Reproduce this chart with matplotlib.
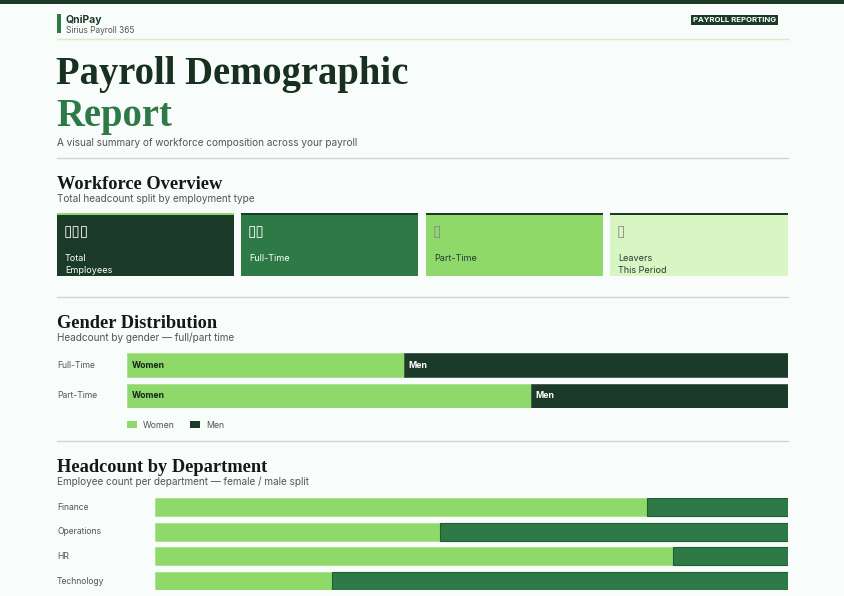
import matplotlib.pyplot as plt
from matplotlib.patches import Rectangle

# data
gender_rows = ['Full-Time', 'Part-Time']
women_gender = [18, 11]
men_gender = [25, 7]

departments = ['Finance', 'Operations', 'HR', 'Technology']
dept_female = [7, 9, 9, 7]
dept_male = [2, 11, 2, 18]

cards = ['Total\nEmployees', 'Full-Time', 'Part-Time', 'Leavers\nThis Period']
card_icons = ['\u25af\u25af\u25af', '\u25af\u25af', '\u25af', '\u25af']

# colours
DARK = '#1b3a27'
MID = '#2d7a47'
LIGHT = '#8fd96b'
PALE = '#d8f5c4'
BG = '#f8fcfa'
GREY = '#555555'

W, H = 844, 596
SANS = ['Inter', 'DejaVu Sans']
SERIF = 'Liberation Serif'


def fx(x):
    return x / W


def fy(y):
    return 1 - y / H


def box(x0, y0, x1, y1):
    return [fx(x0), fy(y1), fx(x1) - fx(x0), fy(y0) - fy(y1)]


def hline(y, x0, x1, color, lw=1.0):
    fig.add_artist(plt.Line2D([fx(x0), fx(x1)], [fy(y), fy(y)], color=color, lw=lw))


def rect(x0, y0, x1, y1, color):
    fig.add_artist(Rectangle((fx(x0), fy(y1)), fx(x1) - fx(x0), fy(y0) - fy(y1),
                             color=color, lw=0, transform=fig.transFigure))


fig = plt.figure(figsize=(8.44, 5.96), dpi=100, facecolor=BG)

# top strip and header
rect(0, 0, W, 4, DARK)
rect(57, 14, 61, 33, MID)
fig.text(fx(66), fy(20), 'QniPay', family=SANS, fontsize=7.5, weight='bold', color=DARK, va='center')
fig.text(fx(66), fy(30.5), 'Sirius Payroll 365', family=SANS, fontsize=6, color=GREY, va='center')
fig.text(fx(734.5), fy(20), 'PAYROLL REPORTING', family=SANS, fontsize=5.6, weight='bold', color='white',
         ha='center', va='center',
         bbox=dict(boxstyle='square,pad=0.25', fc=DARK, ec='none'))
hline(39, 57, 788, '#d6efc2')

fig.text(fx(56), fy(84), 'Payroll Demographic', family=SERIF, fontsize=27.8, weight='bold', color='#17301f',
         va='baseline')
fig.text(fx(56), fy(126), 'Report', family=SERIF, fontsize=27.8, weight='bold', color=MID, va='baseline')
fig.text(fx(57), fy(143.5), 'A visual summary of workforce composition across your payroll', family=SANS,
         fontsize=7.2, color=GREY, va='center')
hline(158, 57, 788, '#d0d4d2')

# workforce overview
fig.text(fx(57), fy(189), 'Workforce Overview', family=SERIF, fontsize=13.2, weight='bold', color='#111a14',
         va='baseline')
fig.text(fx(57), fy(198.5), 'Total headcount split by employment type', family=SANS, fontsize=7.2,
         color=GREY, va='center')

card_x = [(57, 234), (241, 418), (426, 603), (610, 788)]
card_bg = [DARK, MID, LIGHT, PALE]
card_top = [LIGHT, DARK, DARK, DARK]
card_fg = ['white', 'white', '#2a3a2e', '#2a3a2e']
icon_fg = ['white', 'white', '#888888', '#888888']
for (x0, x1), bg, top, fg, ic, label, icon in zip(card_x, card_bg, card_top, card_fg, icon_fg, cards, card_icons):
    rect(x0, 213, x1, 276, bg)
    rect(x0, 213, x1, 215, top)
    fig.text(fx(x0 + 7), fy(232), icon, family=['DejaVu Sans'], fontsize=11, color=ic, va='center')
    fig.text(fx(x0 + 8), fy(254), label, family=SANS, fontsize=6.5, color=fg, va='top', linespacing=1.45)

hline(297, 57, 788, '#d0d4d2')

# gender distribution
fig.text(fx(57), fy(328), 'Gender Distribution', family=SERIF, fontsize=13.2, weight='bold', color='#111a14',
         va='baseline')
fig.text(fx(57), fy(337.5), 'Headcount by gender \u2014 full/part time', family=SANS, fontsize=7.2,
         color=GREY, va='center')

ax1 = fig.add_axes(box(127, 353, 788, 408))
tot = [w + m for w, m in zip(women_gender, men_gender)]
wf = [w / t for w, t in zip(women_gender, tot)]
mf = [m / t for m, t in zip(men_gender, tot)]
ypos = list(range(len(gender_rows)))
hgt = 24 / 31
ax1.barh(ypos, wf, height=hgt, color=LIGHT, edgecolor='#a8e08a', lw=0.6)
ax1.barh(ypos, mf, left=wf, height=hgt, color=DARK, edgecolor='#3d5a46', lw=0.6)
ax1.set_xlim(0, 1)
ax1.set_ylim(len(gender_rows) - 1 + hgt / 2 + 0.005, -hgt / 2 - 0.005)
ax1.axis('off')
for i, (name, w) in enumerate(zip(gender_rows, wf)):
    ax1.text(0.008, i, 'Women', family=SANS, fontsize=6.3, weight='bold', color='#13261a', va='center')
    ax1.text(w + 0.007, i, 'Men', family=SANS, fontsize=6.3, weight='bold', color='white', va='center')
    fig.text(fx(57), fy(365 + 31 * i), name, family=SANS, fontsize=6.2, color=GREY, va='center')

# legend
rect(127, 421, 137, 428, LIGHT)
fig.text(fx(143), fy(425.5), 'Women', family=SANS, fontsize=6.3, color=GREY, va='center')
rect(190, 421, 200, 428, DARK)
fig.text(fx(206), fy(425.5), 'Men', family=SANS, fontsize=6.3, color=GREY, va='center')

hline(441, 57, 788, '#d0d4d2')

# headcount by department
fig.text(fx(57), fy(472), 'Headcount by Department', family=SERIF, fontsize=13.2, weight='bold',
         color='#111a14', va='baseline')
fig.text(fx(57), fy(481.5), 'Employee count per department \u2014 female / male split', family=SANS,
         fontsize=7.2, color=GREY, va='center')

ax2 = fig.add_axes(box(155, 498, 788, 590))
dtot = [f + m for f, m in zip(dept_female, dept_male)]
ff = [f / t for f, t in zip(dept_female, dtot)]
mm = [m / t for m, t in zip(dept_male, dtot)]
dpos = list(range(len(departments)))
dh = 18 / 24.67
ax2.barh(dpos, ff, height=dh, color=LIGHT, edgecolor='#a8e08a', lw=0.6)
ax2.barh(dpos, mm, left=ff, height=dh, color=MID, edgecolor='#1f5e35', lw=0.8)
ax2.set_xlim(0, 1)
ax2.set_ylim(len(departments) - 1 + dh / 2 + 0.005, -dh / 2 - 0.005)
ax2.axis('off')
for i, name in enumerate(departments):
    fig.text(fx(57), fy(507 + 24.67 * i), name, family=SANS, fontsize=6.2, color=GREY, va='center')

fig.savefig('out.png', dpi=100, facecolor=BG)
